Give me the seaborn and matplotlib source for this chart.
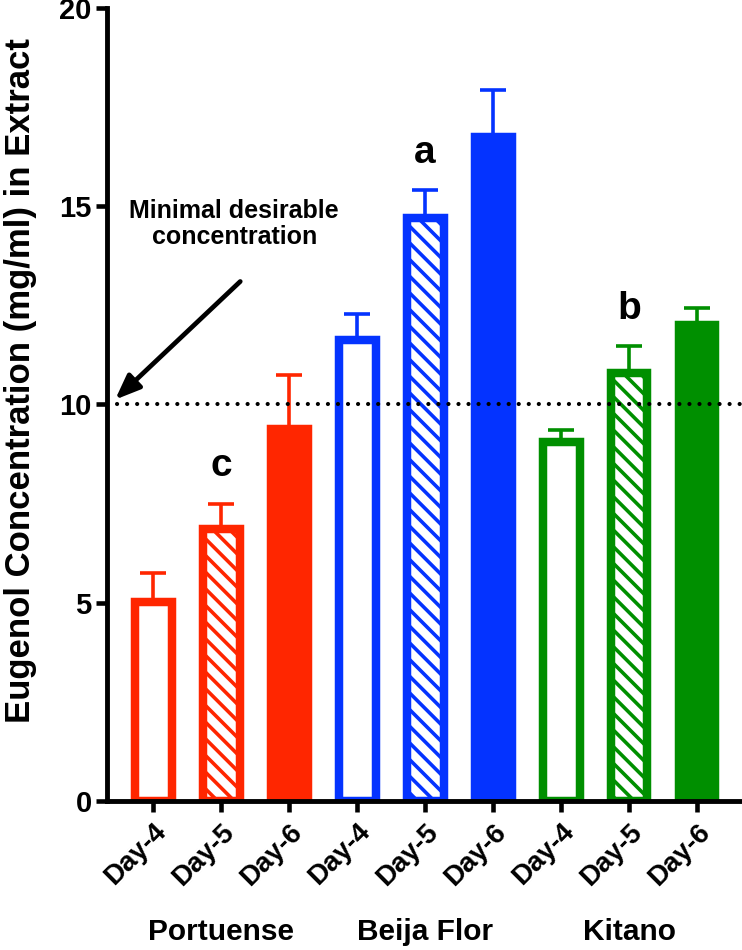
import numpy as np
import pandas as pd
import seaborn as sns
import matplotlib.pyplot as plt
import matplotlib.transforms as mtransforms

# values (mean and upper error bar)
groups = ['Portuense', 'Beija Flor', 'Kitano']
days = ['Day-4', 'Day-5', 'Day-6']
portuense_mean = [5.02, 6.86, 9.39]
portuense_err = [0.73, 0.63, 1.34]
beija_mean = [11.62, 14.71, 16.75]
beija_err = [0.67, 0.69, 1.18]
kitano_mean = [9.06, 10.80, 12.01]
kitano_err = [0.30, 0.66, 0.43]
group_colors = ['#FF2600', '#0433FF', '#008F00']
day_style = ['open', 'hatch', 'filled']
letters = ['c', 'a', 'b']
threshold = 10

sns.set_style('ticks')
plt.rcParams['font.family'] = ['Liberation Sans', 'DejaVu Sans']
plt.rcParams['font.weight'] = 'bold'
plt.rcParams['text.color'] = 'black'
plt.rcParams['xtick.color'] = 'black'
plt.rcParams['ytick.color'] = 'black'
plt.rcParams['axes.labelcolor'] = 'black'
plt.rcParams['axes.edgecolor'] = 'black'
plt.rcParams['hatch.linewidth'] = 2.6

df = pd.DataFrame({
    'group': np.repeat(groups, 3),
    'day': days * 3,
    'mean': portuense_mean + beija_mean + kitano_mean,
    'err': portuense_err + beija_err + kitano_err,
})
df['id'] = [f'{g}|{d}' for g, d in zip(df['group'], df['day'])]
colors = list(np.repeat(group_colors, 3))
styles = day_style * 3

fig = plt.figure(figsize=(7.42, 9.5), dpi=100)
ax = fig.add_axes([107 / 742, 1 - 800.7 / 950, 1 - 107 / 742, 792.7 / 950])

xpos = np.arange(len(df))
# error bars first so the bars cover the lower whisker
for i, row in df.iterrows():
    ax.errorbar(i, row['mean'], yerr=[[0], [row['err']]], fmt='none',
                ecolor=colors[i], elinewidth=2.6, capsize=9.5, capthick=2.6, zorder=1)

sns.barplot(data=df, x='id', y='mean', hue='id', palette=colors, order=df['id'],
            hue_order=df['id'], width=0.54, saturation=1, legend=False,
            errorbar=None, ax=ax, zorder=2)

for p in ax.patches:
    i = int(round(p.get_x() + p.get_width() / 2))
    p.set_edgecolor(colors[i])
    p.set_linewidth(6.1)
    p.set_zorder(2)
    if styles[i] == 'open':
        p.set_facecolor('white')
    elif styles[i] == 'hatch':
        p.set_facecolor('white')
        p.set_hatch('\\\\')
    else:
        p.set_facecolor(colors[i])

ax.axhline(threshold, color='black', lw=3.0, ls=(0, (0.01, 2.4)),
           dash_capstyle='round', zorder=3)

ax.set_xlim(-0.68, 8.66)
ax.set_ylim(0, 20)
ax.set_yticks([0, 5, 10, 15, 20])
ax.set_xticks(xpos)
ax.set_xticklabels(df['day'], rotation=45, ha='right', rotation_mode='anchor',
                   fontsize=20, fontweight='bold')
ax.tick_params(axis='y', labelsize=21, length=8, width=3.3, pad=3)
ax.tick_params(axis='x', length=8, width=3.3, pad=5)
for lab in ax.get_yticklabels():
    lab.set_fontweight('bold')
sns.despine(ax=ax)
for s in ['left', 'bottom']:
    ax.spines[s].set_linewidth(3.5)
    ax.spines[s].set_capstyle('projecting')

ax.set_xlabel('')
ax.set_ylabel('Eugenol Concentration (mg/ml) in Extract', fontsize=25, fontweight='bold')
ax.yaxis.set_label_coords(-0.11, 0.53)

# significance letters over Day-5 bars
for k, letter in enumerate(letters):
    i = 3 * k + 1
    ax.text(i, df['mean'][i] + df['err'][i] + 0.95, letter, ha='center', va='center',
            fontsize=28, fontweight='bold')

# group labels under the tick labels
trans = mtransforms.blended_transform_factory(ax.transData, fig.transFigure)
for k, g in enumerate(groups):
    ax.text(3 * k + 1, 0.019, g, transform=trans, ha='center', va='center',
            fontsize=21.5, fontweight='bold')

ax.text(1.19, 14.55, 'Minimal desirable\nconcentration', ha='center', va='center',
        fontsize=18, fontweight='bold', linespacing=1.1)
ax.annotate('', xy=(-0.56, 10.12), xytext=(1.28, 13.1),
            arrowprops=dict(arrowstyle='-|>,head_length=1.5,head_width=0.6',
                            color='black', lw=3.4, shrinkA=0, shrinkB=0))

fig.savefig('out.png', dpi=100)
